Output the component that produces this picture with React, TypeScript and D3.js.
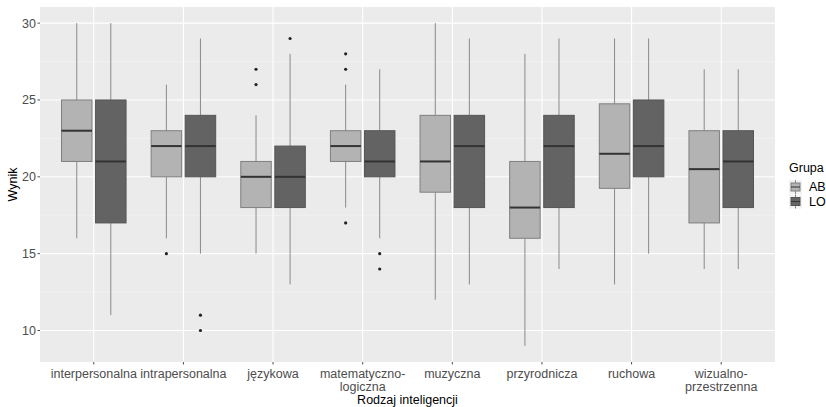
import React from "react";
import * as d3 from "d3";

const categories = [
  "interpersonalna",
  "intrapersonalna",
  "językowa",
  "matematyczno-\nlogiczna",
  "muzyczna",
  "przyrodnicza",
  "ruchowa",
  "wizualno-\nprzestrzenna",
];
const groups = ["AB", "LO"];
// [whiskerLow, Q1, median, Q3, whiskerHigh]
const statsAB = [
  [16, 21, 23, 25, 30],
  [16, 20, 22, 23, 26],
  [15, 18, 20, 21, 24],
  [18, 21, 22, 23, 26],
  [12, 19, 21, 24, 30],
  [9, 16, 18, 21, 28],
  [13, 19.25, 21.5, 24.75, 29],
  [14, 17, 20.5, 23, 27],
];
const statsLO = [
  [11, 17, 21, 25, 30],
  [15, 20, 22, 24, 29],
  [13, 18, 20, 22, 28],
  [16, 20, 21, 23, 27],
  [13, 18, 22, 24, 29],
  [14, 18, 22, 24, 29],
  [15, 20, 22, 25, 29],
  [14, 18, 21, 23, 27],
];
const outliersAB = [[], [15], [27, 26], [28, 27, 17], [], [], [], []];
const outliersLO = [[], [11, 10], [29], [15, 14], [], [], [], []];
const yTicks = [10, 15, 20, 25, 30];
const yMinor = [12.5, 17.5, 22.5, 27.5];

const fills = ["#b3b3b3", "#636363"];
const strokes = ["#7f7f7f", "#555555"];

export default function App() {
  const W = 826, H = 407;
  const left = 40, right = 775, top = 7, bottom = 362;
  const y = d3.scaleLinear().domain([7.95, 31.05]).range([bottom, top]);
  const unit = (right - left) / 8.2;
  const x = (i: number) => left + (0.6 + i) * unit;
  const off = 0.19 * unit;
  const bw = 0.34 * unit;
  const font = "Liberation Sans, Arial, sans-serif";
  const allStats = [statsAB, statsLO];
  const allOut = [outliersAB, outliersLO];

  return (
    <svg width={W} height={H} style={{ position: "absolute", left: 0, top: 0 }} fontFamily={font}>
      <rect x={0} y={0} width={W} height={H} fill="#ffffff" />
      <rect x={left} y={top} width={right - left} height={bottom - top} fill="#ebebeb" />
      {yMinor.map((t) => (
        <line key={"m" + t} x1={left} x2={right} y1={y(t)} y2={y(t)} stroke="#f5f5f5" strokeWidth={0.6} />
      ))}
      {yTicks.map((t) => (
        <line key={"g" + t} x1={left} x2={right} y1={y(t)} y2={y(t)} stroke="#ffffff" strokeWidth={1.1} />
      ))}
      {categories.map((c, i) => (
        <line key={"v" + i} x1={x(i)} x2={x(i)} y1={top} y2={bottom} stroke="#ffffff" strokeWidth={1.1} />
      ))}
      {categories.map((c, i) =>
        groups.map((g, gi) => {
          const s = allStats[gi][i];
          const cx = x(i) + (gi === 0 ? -off : off);
          return (
            <g key={c + g}>
              <line x1={cx} x2={cx} y1={y(s[3])} y2={y(s[4])} stroke="#8a8a8a" strokeWidth={1} />
              <line x1={cx} x2={cx} y1={y(s[1])} y2={y(s[0])} stroke="#8a8a8a" strokeWidth={1} />
              <rect
                x={cx - bw / 2}
                y={y(s[3])}
                width={bw}
                height={y(s[1]) - y(s[3])}
                fill={fills[gi]}
                stroke={strokes[gi]}
                strokeWidth={1}
              />
              <line x1={cx - bw / 2} x2={cx + bw / 2} y1={y(s[2])} y2={y(s[2])} stroke="#333333" strokeWidth={2} />
              {allOut[gi][i].map((o, k) => (
                <circle key={k} cx={cx} cy={y(o)} r={1.6} fill="#222222" />
              ))}
            </g>
          );
        })
      )}
      {yTicks.map((t) => (
        <g key={"yt" + t}>
          <line x1={left - 2.5} x2={left} y1={y(t)} y2={y(t)} stroke="#4d4d4d" />
          <text x={left - 4} y={y(t)} dy="0.35em" textAnchor="end" fontSize={12.5} fill="#4d4d4d">
            {t}
          </text>
        </g>
      ))}
      {categories.map((c, i) => (
        <g key={"xt" + i}>
          <line x1={x(i)} x2={x(i)} y1={bottom} y2={bottom + 2.5} stroke="#4d4d4d" />
          {c.split("\n").map((ln, k) => (
            <text key={k} x={x(i)} y={bottom + 15.5 + k * 13.5} textAnchor="middle" fontSize={12.5} fill="#4d4d4d">
              {ln}
            </text>
          ))}
        </g>
      ))}
      <text x={(left + right) / 2} y={404} textAnchor="middle" fontSize={12.5} fill="#000000">
        Rodzaj inteligencji
      </text>
      <text
        transform={`translate(17,${(top + bottom) / 2}) rotate(-90)`}
        textAnchor="middle"
        fontSize={12.5}
        fill="#000000"
      >
        Wynik
      </text>
      <text x={789} y={172} fontSize={12.5} fill="#000000">
        Grupa
      </text>
      {groups.map((g, gi) => {
        const ky = 187 + gi * 14.5;
        return (
          <g key={"lg" + g}>
            <rect x={789} y={ky - 7} width={13} height={14} fill="#f2f2f2" />
            <line x1={795.5} x2={795.5} y1={ky - 7} y2={ky + 7} stroke="#8a8a8a" />
            <rect x={791} y={ky - 4} width={9} height={8} fill={fills[gi]} stroke={strokes[gi]} />
            <line x1={791} x2={800} y1={ky} y2={ky} stroke="#333333" />
            <text x={809} y={ky} dy="0.35em" fontSize={12.5} fill="#000000">
              {g}
            </text>
          </g>
        );
      })}
    </svg>
  );
}
